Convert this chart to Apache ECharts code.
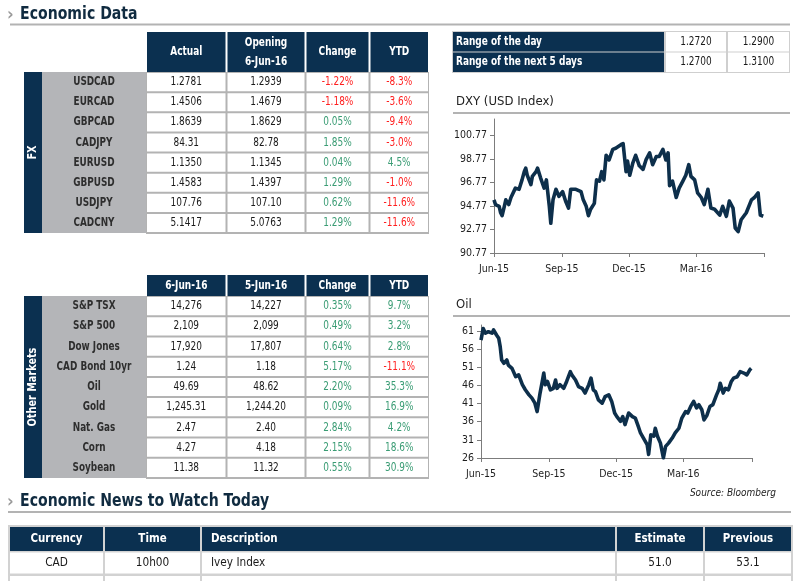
<!DOCTYPE html>
<html><head><meta charset="utf-8">
<script src="https://cdn.jsdelivr.net/npm/echarts@6/dist/echarts.min.js"></script>
<style>html,body{margin:0;padding:0;background:#fff}#c{width:801px;height:581px}</style>
</head><body><div id="c"></div>
<script>
// ---------------- DATA ----------------
const fxPairs   = ['USDCAD','EURCAD','GBPCAD','CADJPY','EURUSD','GBPUSD','USDJPY','CADCNY'];
const fxActual  = [1.2781, 1.4506, 1.8639, 84.31, 1.1350, 1.4583, 107.76, 5.1417];
const fxOpening = [1.2939, 1.4679, 1.8629, 82.78, 1.1345, 1.4397, 107.10, 5.0763];
const fxDecimals= [4, 4, 4, 2, 4, 4, 2, 4];
const fxChange  = [-1.22, -1.18, 0.05, 1.85, 0.04, 1.29, 0.62, 1.29];
const fxYtd     = [-8.3, -3.6, -9.4, -3.0, 4.5, -1.0, -11.6, -11.6];
const fxHeaders = ['Actual', 'Opening\n6-Jun-16', 'Change', 'YTD'];

const mktNames   = ['S&P TSX','S&P 500','Dow Jones','CAD Bond 10yr','Oil','Gold','Nat. Gas','Corn','Soybean'];
const mktToday   = [14276, 2109, 17920, 1.24, 49.69, 1245.31, 2.47, 4.27, 11.38];
const mktPrev    = [14227, 2099, 17807, 1.18, 48.62, 1244.20, 2.40, 4.18, 11.32];
const mktDecimals= [0, 0, 0, 2, 2, 2, 2, 2, 2];
const mktChange  = [0.35, 0.49, 0.64, 5.17, 2.20, 0.09, 2.84, 2.15, 0.55];
const mktYtd     = [9.7, 3.2, 2.8, -11.1, 35.3, 16.9, 4.2, 18.6, 30.9];
const mktHeaders = ['6-Jun-16', '5-Jun-16', 'Change', 'YTD'];

const rangeLabels = ['Range of the day', 'Range of the next 5 days'];
const rangeLow    = [1.2720, 1.2700];
const rangeHigh   = [1.2900, 1.3100];

const newsHeaders  = ['Currency', 'Time', 'Description', 'Estimate', 'Previous'];
const newsCurrency = ['CAD'];
const newsTime     = ['10h00'];
const newsDesc     = ['Ivey Index'];
const newsEstimate = [51.0];
const newsPrevious = [53.1];

const quarterLabels = ['Jun-15', 'Sep-15', 'Dec-15', 'Mar-16'];
const quarterDays   = [0, 92, 183, 274];   // days since 1-Jun-15

const dxyTicks = [90.77, 92.77, 94.77, 96.77, 98.77, 100.77];
const dxyDays = [0,2,7,9,11,14,16,20,23,29,34,38,41,43,45,50,52,57,59,63,68,71,75,77,80,84,88,93,97,101,104,111,118,121,125,128,131,136,139,143,146,149,152,156,161,165,172,175,179,181,184,188,192,197,202,206,211,215,220,224,229,233,236,238,242,247,251,256,260,264,267,272,276,281,285,290,294,299,306,310,315,319,324,327,331,335,342,349,353,358,361,365];
const dxyValues = [95.3,94.9,94.75,94.2,93.95,94.75,95.3,94.9,95.5,96.3,96.2,97.0,97.7,98.0,97.4,96.6,97.3,97.7,98.0,97.2,96.3,97.0,94.75,93.3,95.3,96.2,95.6,96.0,95.2,94.6,96.2,96.2,96.0,95.3,94.75,93.95,94.5,95.0,97.0,96.9,97.7,97.0,99.1,98.7,99.6,99.7,100.0,100.1,97.7,98.6,97.4,98.4,99.1,98.2,97.9,98.7,99.3,98.3,99.0,99.0,99.6,98.7,99.3,96.5,96.9,95.5,96.3,96.9,97.4,98.3,97.3,97.0,95.9,95.5,94.9,96.2,94.6,94.5,94.0,94.75,93.9,95.2,94.6,92.9,92.6,93.6,94.2,95.3,95.5,95.9,94.0,93.9];

const oilTicks = [26, 31, 36, 41, 46, 51, 56, 61];
const oilDays = [0,3,6,10,15,17,21,24,26,28,31,35,37,42,47,51,56,60,65,69,73,76,78,80,83,85,87,90,94,98,101,103,107,112,116,121,123,128,132,137,141,146,149,152,155,159,164,168,173,177,181,184,189,192,195,200,205,209,213,216,220,225,227,230,234,236,239,243,247,250,254,259,263,268,272,277,280,284,288,292,295,299,302,306,310,314,319,322,324,328,331,335,339,342,347,351,356,360,364,366];
const oilValues = [58.5,61.7,60.4,60.8,60.4,61.3,59.9,59.0,56.7,53.0,52.1,53.0,51.6,50.7,48.4,48.9,46.2,44.8,43.4,42.5,41.1,38.8,38.4,43.9,47.1,49.4,46.2,47.1,44.8,45.2,47.5,45.2,46.2,45.2,47.1,49.8,48.9,47.5,45.7,45.2,43.9,46.2,48.0,44.8,44.3,42.0,41.1,42.9,43.4,41.6,38.4,37.4,36.1,37.4,35.2,38.4,37.4,37.0,34.7,32.9,31.5,29.7,27.0,32.4,32.0,34.2,32.0,30.1,26.0,29.2,30.1,31.5,32.9,34.2,37.0,38.8,38.4,40.2,41.6,39.8,40.7,39.3,36.5,37.8,40.2,40.7,43.4,44.8,46.6,43.9,45.2,44.8,47.1,48.0,48.4,49.8,49.4,48.9,50.3,50.7];

// ---------------- STYLE ----------------
const NAVY = '#0b3050', GRAYCOL = '#b4b5b8', LINEG = '#b3b3b3', RED = '#ff1f1f', GREEN = '#3a9c74', TXT = '#1a1a1a';
const NF = "'DejaVu Sans Condensed','DejaVu Sans',sans-serif";
const TF = "'DejaVu Sans Condensed','DejaVu Sans',sans-serif";
const SX = 0.83;
const fmtNum = (v, d) => v.toLocaleString('en-US', {minimumFractionDigits: d, maximumFractionDigits: d});
const pct = (v, d) => v.toFixed(d) + '%';
const sgn = v => v < 0 ? RED : GREEN;

// ---------------- TABLE CELLS ----------------
function cell(list, x0, x1, y0, y1, fill, text, o) {
  list.push(Object.assign({x0, x1, y0, y1, fill, text: text == null ? '' : String(text)}, o || {}));
}
const HB = 'bold 12px ' + NF, DT = '12px ' + NF, LB = 'bold 12px ' + NF;

function buildMarketTable(headH, rowH, headers, names, c1, c2, chg, ytd, dec1, sideText) {
  const L = [];
  const cols = [122, 202.5, 281.5, 345.5, 405];
  const n = names.length, bottom = headH + n * rowH;
  cell(L, cols[0], cols[4], headH, bottom + 1, LINEG);
  for (let c = 0; c < 4; c++) cell(L, cols[c] + 1, cols[c + 1] - 1, 0, headH, NAVY, headers[c], {color: '#fff', font: HB});
  cell(L, 0, 18, headH, bottom, NAVY, sideText, {color: '#fff', font: 'bold 12px ' + NF, rot: Math.PI / 2, sx: 0.9});
  cell(L, 18, 122, headH, bottom, GRAYCOL);
  for (let r = 0; r < n; r++) {
    const y0 = headH + r * rowH, y1 = y0 + rowH;
    cell(L, 18, 122, y0, y1, null, names[r], {color: '#2e2e2e', font: LB, sx: 0.82});
    const vals = [
      [fmtNum(c1[r], dec1[r]), TXT], [fmtNum(c2[r], dec1[r]), TXT],
      [pct(chg[r], 2), sgn(chg[r])], [pct(ytd[r], 1), sgn(ytd[r])]
    ];
    for (let c = 0; c < 4; c++) cell(L, cols[c] + 1, cols[c + 1] - 1, y0 + 1, y1 - 1, '#fff', vals[c][0], {color: vals[c][1], font: DT});
  }
  return L;
}
const fxCells = buildMarketTable(40, 161 / 8, fxHeaders, fxPairs, fxActual, fxOpening, fxChange, fxYtd, fxDecimals, 'FX');
const mktCells = buildMarketTable(21, 182 / 9, mktHeaders, mktNames, mktToday, mktPrev, mktChange, mktYtd, mktDecimals, 'Other Markets');

const rngCells = [];
cell(rngCells, 0, 338, 0, 42, '#cfcfcf');
for (let r = 0; r < rangeLabels.length; r++) {
  const y0 = 1 + r * 20.5, y1 = y0 + 19.5;
  cell(rngCells, 1, 212, y0, y1, NAVY, rangeLabels[r], {color: '#fff', font: HB, align: 'left', pad: 3});
  cell(rngCells, 214, 274, y0, y1, '#fff', rangeLow[r].toFixed(4), {font: DT});
  cell(rngCells, 276, 337, y0, y1, '#fff', rangeHigh[r].toFixed(4), {font: DT});
}

const newsCells = [];
const nCols = [1, 96, 193, 608, 696, 784];
cell(newsCells, 0, 785, 0, 56, '#d2d2d2');
for (let c = 0; c < 5; c++) cell(newsCells, nCols[c] + 1, nCols[c + 1] - 1, 2, 26, NAVY, newsHeaders[c], {color: '#fff', font: 'bold 13px ' + NF, align: c === 2 ? 'left' : 'center', pad: 9, sx: 0.88});
for (let r = 0; r < newsCurrency.length; r++) {
  const y0 = 27.5 + r * 23, y1 = y0 + 21;
  const vals = [newsCurrency[r], newsTime[r], newsDesc[r], newsEstimate[r].toFixed(1), newsPrevious[r].toFixed(1)];
  for (let c = 0; c < 5; c++) cell(newsCells, nCols[c] + 1, nCols[c + 1] - 1, y0, y1, '#fff', vals[c], {font: '13px ' + NF, align: c === 2 ? 'left' : 'center', pad: 9, sx: 0.9});
}
for (let c = 0; c < 5; c++) cell(newsCells, nCols[c] + 1, nCols[c + 1] - 1, 51, 60, '#fff');

function makeRender(list) {
  return function (params, api) {
    const c = list[api.value(4)];
    const p0 = api.coord([api.value(0), api.value(2)]);
    const p1 = api.coord([api.value(1), api.value(3)]);
    const x = Math.min(p0[0], p1[0]), y = Math.min(p0[1], p1[1]);
    const w = Math.abs(p1[0] - p0[0]), h = Math.abs(p1[1] - p0[1]);
    const ch = [];
    if (c.fill) ch.push({type: 'rect', shape: {x, y, width: w, height: h}, style: {fill: c.fill}});
    if (c.text) {
      const al = c.align || 'center';
      const tx = al === 'left' ? x + (c.pad || 4) : x + w / 2;
      ch.push({type: 'text', x: tx, y: y + h / 2, rotation: c.rot || 0, scaleX: c.sx || SX, scaleY: 1,
        style: {text: c.text, fill: c.color || TXT, font: c.font || DT, textAlign: al, textVerticalAlign: 'middle', lineHeight: 19}});
    }
    return {type: 'group', children: ch};
  };
}

const tables = [
  {cells: fxCells,   left: 24,  top: 32,  w: 406, h: 202},
  {cells: mktCells,  left: 24,  top: 275, w: 406, h: 204},
  {cells: rngCells,  left: 452, top: 31,  w: 338, h: 42},
  {cells: newsCells, left: 8,   top: 525, w: 785, h: 56}
];

const grid = [], xAxis = [], yAxis = [], series = [];
tables.forEach((t, i) => {
  grid.push({left: t.left, top: t.top, width: t.w, height: t.h});
  xAxis.push({type: 'value', gridIndex: i, min: 0, max: t.w, show: false});
  yAxis.push({type: 'value', gridIndex: i, min: 0, max: t.h, inverse: true, show: false});
  series.push({type: 'custom', xAxisIndex: i, yAxisIndex: i, clip: false, silent: true,
    renderItem: makeRender(t.cells), data: t.cells.map((c, k) => [c.x0, c.x1, c.y0, c.y1, k]),
    encode: {x: [0, 1], y: [2, 3]}});
});

// ---------------- LINE CHARTS ----------------
const AX = '#7c7c7c', LBL = '#1e1e1e';
function lineAxes(gi, ymin, ymax, yTicks, yDec, xmax) {
  xAxis.push({type: 'value', gridIndex: gi, min: 0, max: xmax,
    axisLine: {show: true, lineStyle: {color: AX, width: 1}},
    axisTick: {show: true, length: 4, customValues: quarterDays.concat([xmax]), lineStyle: {color: AX}},
    axisLabel: {customValues: quarterDays, margin: 11, color: LBL, fontSize: 10.5, fontFamily: TF,
      formatter: v => { const k = quarterDays.indexOf(Math.round(v)); return k >= 0 ? quarterLabels[k] : ''; }},
    splitLine: {show: false}});
  yAxis.push({type: 'value', gridIndex: gi, min: ymin, max: ymax,
    axisLine: {show: true, lineStyle: {color: AX, width: 1}},
    axisTick: {show: true, length: 4, customValues: yTicks, lineStyle: {color: AX}},
    axisLabel: {customValues: yTicks, margin: 7, color: LBL, fontSize: 10.5, fontFamily: TF, formatter: v => v.toFixed(yDec)},
    splitLine: {show: false}});
}
grid.push({left: 494, top: 119, width: 270, height: 134});
lineAxes(4, 90.77, 102.19, dxyTicks, 2, 366);
series.push({type: 'line', xAxisIndex: 4, yAxisIndex: 4, showSymbol: false, silent: true,
  data: dxyDays.map((d, k) => [d, dxyValues[k]]), lineStyle: {color: '#0d2f4b', width: 3.6, join: 'round'}, itemStyle: {color: '#0d2f4b'}});
grid.push({left: 481, top: 325, width: 271, height: 133});
lineAxes(5, 26, 62.65, oilTicks, 0, 367);
series.push({type: 'line', xAxisIndex: 5, yAxisIndex: 5, showSymbol: false, silent: true,
  data: oilDays.map((d, k) => [d, oilValues[k]]), lineStyle: {color: '#0d2f4b', width: 3.6, join: 'round'}, itemStyle: {color: '#0d2f4b'}});

// ---------------- DECORATION ----------------
const TITLEC = '#102b40';
const graphic = [
  {type: 'text', x: 7, y: 15, style: {text: '›', font: 'bold 18px ' + TF, fill: '#9a9a9a', textVerticalAlign: 'middle'}},
  {type: 'text', x: 20, y: 14, scaleX: 0.87, style: {text: 'Economic Data', font: 'bold 18px ' + TF, fill: TITLEC, textVerticalAlign: 'middle'}},
  {type: 'rect', shape: {x: 10, y: 23.5, width: 780, height: 2}, style: {fill: LINEG}},
  {type: 'text', x: 456, y: 102, style: {text: 'DXY (USD Index)', font: '13px ' + TF, fill: '#222', textVerticalAlign: 'middle'}},
  {type: 'rect', shape: {x: 453, y: 112, width: 337, height: 2}, style: {fill: LINEG}},
  {type: 'text', x: 456, y: 305, style: {text: 'Oil', font: '13px ' + TF, fill: '#222', textVerticalAlign: 'middle'}},
  {type: 'rect', shape: {x: 453, y: 315, width: 337, height: 2}, style: {fill: LINEG}},
  {type: 'text', x: 776, y: 493, style: {text: 'Source: Bloomberg', font: 'italic 10px ' + TF, fill: '#222', textAlign: 'right', textVerticalAlign: 'middle'}},
  {type: 'text', x: 7, y: 502, style: {text: '›', font: 'bold 18px ' + TF, fill: '#9a9a9a', textVerticalAlign: 'middle'}},
  {type: 'text', x: 20, y: 501, scaleX: 0.87, style: {text: 'Economic News to Watch Today', font: 'bold 18px ' + TF, fill: TITLEC, textVerticalAlign: 'middle'}},
  {type: 'rect', shape: {x: 8, y: 511, width: 783, height: 2}, style: {fill: LINEG}}
];

const chart = echarts.init(document.getElementById('c'), null, {renderer: 'canvas', width: 801, height: 581});
chart.setOption({animation: false, backgroundColor: '#fff', grid, xAxis, yAxis, series, graphic});
</script></body></html>
